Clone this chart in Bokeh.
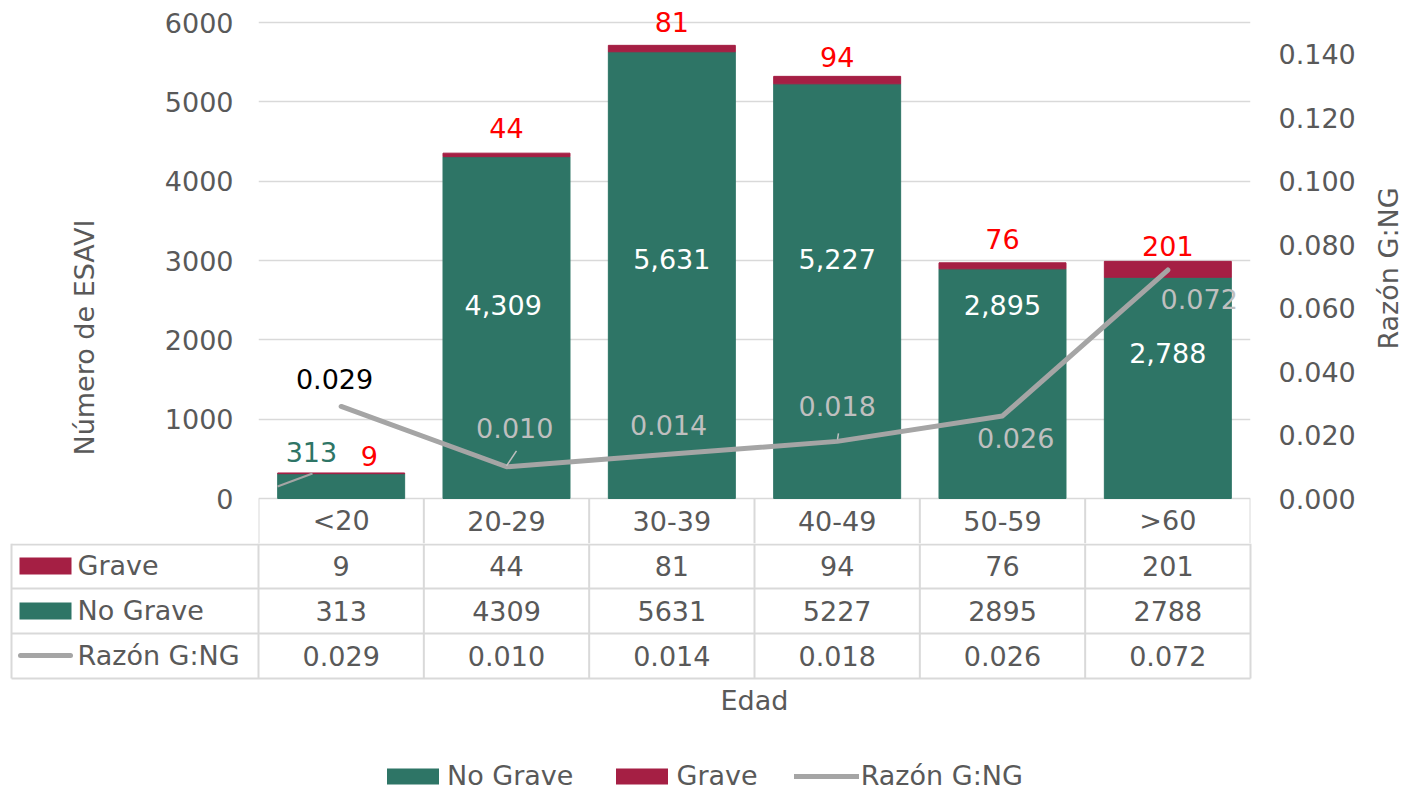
import math
from bokeh.plotting import figure
from bokeh.models import (Range1d, LinearAxis, SingleIntervalTicker, NumeralTickFormatter,
                          ColumnDataSource, Legend, LegendItem, Title)
from bokeh.layouts import row
from bokeh.core.properties import value
from bokeh.embed import file_html
from bokeh.resources import INLINE

# ---------------- data ----------------
categories = ["<20", "20-29", "30-39", "40-49", "50-59", ">60"]
grave = [9, 44, 81, 94, 76, 201]
no_grave = [313, 4309, 5631, 5227, 2895, 2788]
ratio = [0.029, 0.010, 0.014, 0.018, 0.026, 0.072]
row_names = ["Grave", "No Grave", "Razón G:NG"]

# ---------------- label layout (annotation positions) ----------------
grave_lab_dx = [0.17, 0, 0, 0, 0, 0]
grave_lab_dy = [220, 320, 290, 250, 300, 200]        # above stack top (value units)
ng_lab_dx = [-0.18, -0.02, 0, 0, 0, 0]
ng_lab_y = [580, 2445, 3025, 3025, 2445, 1840]
ng_lab_color = ["#2E7566", "white", "white", "white", "white", "white"]
ratio_lab_dx = [-0.04, 0.05, -0.02, 0, 0.08, 0.19]
ratio_lab_y = [0.0378, 0.0221, 0.0233, 0.0290, 0.0192, 0.0628]
ratio_lab_color = ["#000000", "#BFBFBF", "#BFBFBF", "#BFBFBF", "#BFBFBF", "#BFBFBF"]

GREEN = "#2E7566"
RED = "#A51F44"
GREY = "#A5A5A5"
TXT = "#595959"
LINE = "#D9D9D9"
FONT = "DejaVu Sans"
FS = "27px"

# geometry (page pixels)
W = 1405
W1 = 1360                     # main chart width; the right axis title strip follows
FRAME_L, FRAME_R = 258, 1250
FRAME_TOP, Y0, Y6000 = 4, 498, 22
H1 = 543                      # top figure ends below the category header row
BAND = (FRAME_R - FRAME_L) / len(categories)
PPU = (Y0 - Y6000) / 6000.0
Y_END = 6000 + (Y6000 - FRAME_TOP) / PPU
Y_START = -(H1 - Y0) / PPU
R_PER_V = 0.15 / 6000.0


def px2x(px):
    return (px - FRAME_L) / BAND


def py2v(py):
    return (Y0 - py) / PPU


xs = [i + 0.5 for i in range(len(categories))]
totals = [a + b for a, b in zip(grave, no_grave)]

src = ColumnDataSource(dict(x=xs, cat=categories, grave=grave, no_grave=no_grave, ratio=ratio))

# ---------------- top chart ----------------
p1 = figure(width=W1, height=H1, x_range=Range1d(0, 6), y_range=Range1d(Y_START, Y_END),
            output_backend="svg", toolbar_location=None, x_axis_location=None,
            min_border_left=FRAME_L, min_border_right=W1 - FRAME_R, min_border_top=FRAME_TOP,
            min_border_bottom=0)
p1.outline_line_color = None
p1.xgrid.grid_line_color = None
p1.ygrid.grid_line_color = LINE
p1.ygrid.grid_line_width = 1.5


def style_axis(ax):
    ax.axis_line_color = None
    ax.major_tick_line_color = None
    ax.minor_tick_line_color = None
    ax.major_tick_out = 0
    ax.major_tick_in = 0
    ax.minor_tick_out = 0
    ax.minor_tick_in = 0
    ax.major_label_text_font = FONT
    ax.major_label_text_font_size = FS
    ax.major_label_text_color = TXT


ya = p1.yaxis[0]
ya.ticker = SingleIntervalTicker(interval=1000)
style_axis(ya)
ya.major_label_standoff = 25

ytitle = Title(text="Número de ESAVI", align="left", offset=88, standoff=124,
               text_font=FONT, text_font_size=FS, text_color=TXT, text_font_style="normal")
p1.add_layout(ytitle, "left")

p1.extra_y_ranges = {"ratio": Range1d(Y_START * R_PER_V, Y_END * R_PER_V)}
ra = LinearAxis(y_range_name="ratio", ticker=SingleIntervalTicker(interval=0.02),
                formatter=NumeralTickFormatter(format="0.000"))
style_axis(ra)
ra.major_label_standoff = 28
p1.add_layout(ra, "right")

p1.vbar_stack(["no_grave", "grave"], x="x", width=0.768, color=[GREEN, RED], source=src)
p1.line("x", "ratio", source=src, y_range_name="ratio", line_color=GREY, line_width=5,
        line_cap="round", line_join="round")

# leader lines
p1.segment(x0=[px2x(277)], y0=[py2v(486)], x1=[px2x(312)], y1=[py2v(473)],
           line_color="#A5A5A5", line_width=2)
p1.segment(x0=[px2x(506), px2x(837)], y0=[0.0103, 0.0186], x1=[px2x(516), px2x(838)],
           y1=[0.0150, 0.0205], y_range_name="ratio", line_color="#BFBFBF", line_width=1.5)

# labels
p1.text(x=[x + d for x, d in zip(xs, grave_lab_dx)],
        y=[t + d for t, d in zip(totals, grave_lab_dy)],
        text=[str(g) for g in grave], text_font=value(FONT), text_font_size=FS,
        text_color="#FF0000", text_align="center", text_baseline="middle")
p1.text(x=[x + d for x, d in zip(xs, ng_lab_dx)], y=ng_lab_y,
        text=[f"{v:,}" for v in no_grave], text_font=value(FONT), text_font_size=FS,
        text_color=ng_lab_color, text_align="center", text_baseline="middle")
p1.text(x=[x + d for x, d in zip(xs, ratio_lab_dx)], y=ratio_lab_y, y_range_name="ratio",
        text=[f"{v:.3f}" for v in ratio], text_font=value(FONT), text_font_size=FS,
        text_color=ratio_lab_color, text_align="center", text_baseline="middle")

# category header row of the data table (inside the top figure)
p1.segment(x0=list(range(7)), x1=list(range(7)), y0=[0] * 7, y1=[Y_START] * 7,
           line_color=LINE, line_width=2)
tk = dict(text_font=value(FONT), text_font_size=FS, text_color=TXT, text_baseline="middle")
p1.text(x=xs, y=[py2v(520)] * 6, text=categories, text_align="center", **tk)

# ---------------- right axis title strip ----------------
W3 = W - W1
p3 = figure(width=W3, height=H1, x_range=Range1d(W1, W), y_range=Range1d(H1, FRAME_TOP),
            output_backend="svg", toolbar_location=None, x_axis_location=None,
            y_axis_location=None, min_border=0, min_border_top=FRAME_TOP)
p3.outline_line_color = None
p3.grid.visible = False
p3.text(x=[1388], y=[268], text=["Razón G:NG"], angle=math.pi / 2, text_align="center", **tk)

# ---------------- data table rows + legend ----------------
H2 = 791 - H1
p2 = figure(width=W, height=H2, x_range=Range1d(px2x(0), px2x(W)), y_range=Range1d(H2, 0),
            output_backend="svg", toolbar_location=None, x_axis_location=None,
            y_axis_location=None, min_border=0)
p2.outline_line_color = None
p2.grid.visible = False

TL = px2x(11)
row_y = [1, 45, 90, 135]
p2.segment(x0=[TL] * 4, x1=[6] * 4, y0=row_y, y1=row_y, line_color=LINE, line_width=2)
p2.segment(x0=[TL] + list(range(7)), x1=[TL] + list(range(7)),
           y0=[0] * 8, y1=[135] * 8, line_color=LINE, line_width=2)

p2.text(x=xs, y=[22] * 6, text=[str(v) for v in grave], text_align="center", **tk)
p2.text(x=xs, y=[67] * 6, text=[str(v) for v in no_grave], text_align="center", **tk)
p2.text(x=xs, y=[112] * 6, text=[f"{v:.3f}" for v in ratio], text_align="center", **tk)

p2.text(x=[px2x(77)] * 3, y=[22, 67, 112], text=row_names, text_align="left", **tk)
p2.quad(left=[px2x(19)] * 2, right=[px2x(71)] * 2, top=[14, 59], bottom=[31, 76],
        color=[RED, GREEN], line_color=None)
p2.segment(x0=[px2x(20)], x1=[px2x(70)], y0=[112], y1=[112], line_color=GREY, line_width=5,
           line_cap="round")

p2.text(x=[3.0], y=[157], text=["Edad"], text_align="center", **tk)

# legend renderers (placed outside the visible range; only their swatches show)
r_ng = p2.quad(left=[50], right=[51], top=[0], bottom=[1], color=GREEN, line_color=None)
r_g = p2.quad(left=[50], right=[51], top=[0], bottom=[1], color=RED, line_color=None)
r_r = p2.line(x=[50, 51], y=[0, 0], line_color=GREY, line_width=5, line_cap="round")
legend = Legend(items=[LegendItem(label="No Grave", renderers=[r_ng]),
                       LegendItem(label="Grave", renderers=[r_g]),
                       LegendItem(label="Razón G:NG", renderers=[r_r])],
                orientation="horizontal", location=(380, 0), border_line_color=None,
                background_fill_alpha=0, label_text_font=FONT, label_text_font_size=FS,
                label_text_color=TXT, glyph_width=65, glyph_height=20, label_standoff=2,
                spacing=36, padding=0, margin=0)
p2.add_layout(legend)

open("out.html", "w").write(file_html([row(p1, p3, spacing=0), p2], INLINE))
